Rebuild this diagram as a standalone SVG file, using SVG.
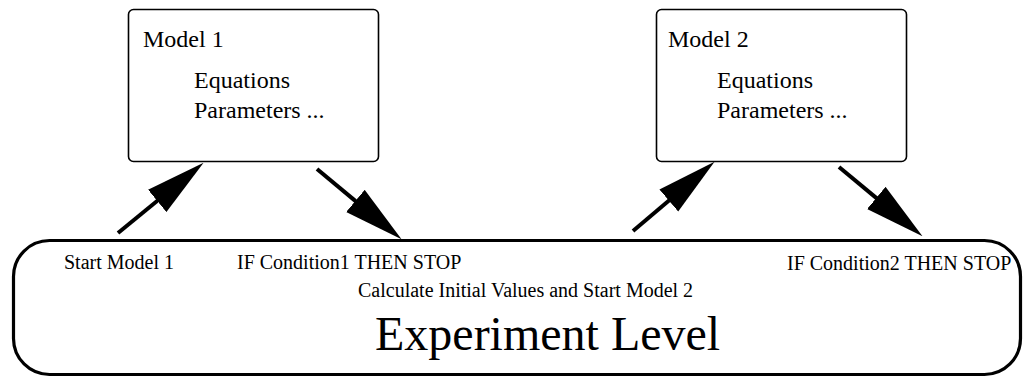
<svg xmlns="http://www.w3.org/2000/svg" width="1029" height="377" viewBox="0 0 1029 377">
<style>
text{font-family:"Liberation Serif","Times New Roman",serif;fill:#000}
.m{font-size:24px}
.s{font-size:20px}
.big{font-size:48px}
.box{fill:#fff;stroke:#000;stroke-width:1.6}
.exp{fill:#fff;stroke:#000;stroke-width:3.2}
.conn{stroke:#000;stroke-width:4;fill:none;marker-end:url(#ah)}
</style>
<defs>
<marker id="ah" markerUnits="userSpaceOnUse" markerWidth="60" markerHeight="30" viewBox="0 0 58 28" refX="1" refY="14" orient="auto">
<path d="M0,0 L58,14 L0,28 z" fill="#000"/>
</marker>
</defs>
<g id="experiment">
<rect class="exp" x="13.5" y="240.5" width="1007" height="134" rx="36"/>
<text class="s" x="64" y="269">Start Model 1</text>
<text class="s" x="237" y="269">IF Condition1 THEN STOP</text>
<text class="s" x="358" y="297">Calculate Initial Values and Start Model 2</text>
<text class="s" x="787" y="270">IF Condition2 THEN STOP</text>
<text class="big" x="375" y="350">Experiment Level</text>
</g>
<g id="model1">
<rect class="box" x="128.5" y="9.5" width="250" height="152" rx="5"/>
<text class="m" x="143" y="47">Model 1</text>
<text class="m" x="194" y="88">Equations</text>
<text class="m" x="194" y="118">Parameters ...</text>
</g>
<g id="model2">
<rect class="box" x="656.5" y="9.5" width="250" height="152" rx="5"/>
<text class="m" x="668" y="47">Model 2</text>
<text class="m" x="717" y="88">Equations</text>
<text class="m" x="717" y="118">Parameters ...</text>
</g>
<g id="connectors">
<path class="conn" d="M118,233 L158,200.2"/>
<path class="conn" d="M317,169 L356.2,201.6"/>
<path class="conn" d="M633,231 L669.6,199.9"/>
<path class="conn" d="M839,167 L877.1,198.6"/>
</g>
</svg>
